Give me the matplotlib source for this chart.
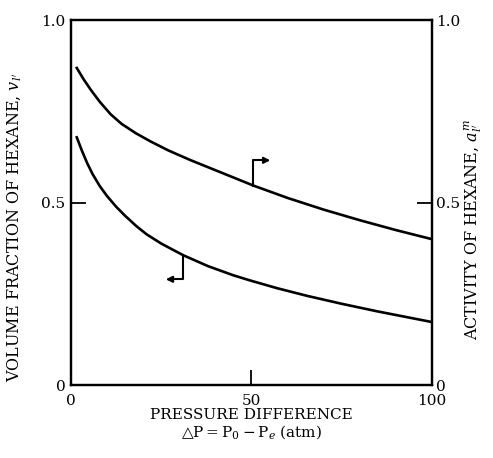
import matplotlib
matplotlib.use("Agg")
import matplotlib.pyplot as plt

plt.rcParams["font.family"] = ["DejaVu Serif"]
plt.rcParams["mathtext.fontset"] = "dejavuserif"

# pressure difference (atm) vs. volume fraction of hexane (left axis)
dp_vol = [1.6, 3.0, 4.5, 6.0, 8.0, 10.0, 12.5, 15.0, 18.2, 21.0, 25.0, 31.1,
          38.0, 45.0, 49.6, 57.0, 65.3, 75.0, 85.0, 100.0]
vol_frac = [0.679, 0.643, 0.608, 0.578, 0.545, 0.518, 0.489, 0.464, 0.435, 0.413,
            0.388, 0.356, 0.326, 0.301, 0.287, 0.266, 0.245, 0.223, 0.202, 0.173]

# pressure difference (atm) vs. activity of hexane (right axis)
dp_act = [1.6, 3.5, 5.5, 8.0, 11.0, 14.0, 18.0, 22.0, 27.0, 33.0, 40.0,
          50.5, 60.0, 70.0, 80.0, 90.0, 100.0]
activity = [0.869, 0.838, 0.809, 0.776, 0.742, 0.716, 0.690, 0.668, 0.643, 0.617,
            0.589, 0.547, 0.513, 0.481, 0.452, 0.425, 0.400]

x_ticks = [0, 50, 100]
y_ticks = [0, 0.5, 1.0]
y_ticklabels = ["0", "0.5", "1.0"]

fig = plt.figure(figsize=(4.93, 4.58), dpi=100)
ax = fig.add_axes([0.144, 0.159, 0.732, 0.797])
ax2 = ax.twinx()

ax.plot(dp_vol, vol_frac, color="black", lw=1.9, solid_joinstyle="round")
ax2.plot(dp_act, activity, color="black", lw=1.9, solid_joinstyle="round")

for a in (ax, ax2):
    a.set_xlim(0, 100)
    a.set_ylim(0, 1.0)
    for s in a.spines.values():
        s.set_linewidth(1.6)

ax.set_xticks(x_ticks)
ax.set_xticklabels([str(t) for t in x_ticks])
ax.set_yticks(y_ticks)
ax.set_yticklabels(y_ticklabels)
ax2.set_yticks(y_ticks)
ax2.set_yticklabels(y_ticklabels)
ax.tick_params(direction="in", length=11, width=1.3, labelsize=11, pad=4)
ax.tick_params(axis="x", pad=6)
ax2.tick_params(direction="in", length=11, width=1.3, labelsize=11, pad=3)

ax.set_xlabel("PRESSURE DIFFERENCE\n$\\bigtriangleup$P$=$P$_0-$P$_e$ (atm)",
              fontsize=11, labelpad=0, linespacing=1.15)
ax.set_ylabel("VOLUME FRACTION OF HEXANE, $v_{l'}$", fontsize=11.5)
ax2.set_ylabel("ACTIVITY OF HEXANE, $a_{l'}^{m}$", fontsize=11.5, rotation=90)
ax.yaxis.set_label_coords(-0.13, 0.433)
ax2.yaxis.set_label_coords(1.085, 0.425)

# pointer marks showing which axis each curve belongs to
ax2.plot([50.5, 50.5, 53.5], [0.547, 0.616, 0.616], color="black", lw=1.5)
ax2.annotate("", xy=(56.0, 0.616), xytext=(53.0, 0.616),
             arrowprops=dict(arrowstyle="-|>", color="black", lw=1.5, mutation_scale=9))
ax.plot([31.1, 31.1, 28.0], [0.356, 0.290, 0.290], color="black", lw=1.5)
ax.annotate("", xy=(25.5, 0.290), xytext=(28.5, 0.290),
            arrowprops=dict(arrowstyle="-|>", color="black", lw=1.5, mutation_scale=9))

fig.savefig("out.png", dpi=100)
